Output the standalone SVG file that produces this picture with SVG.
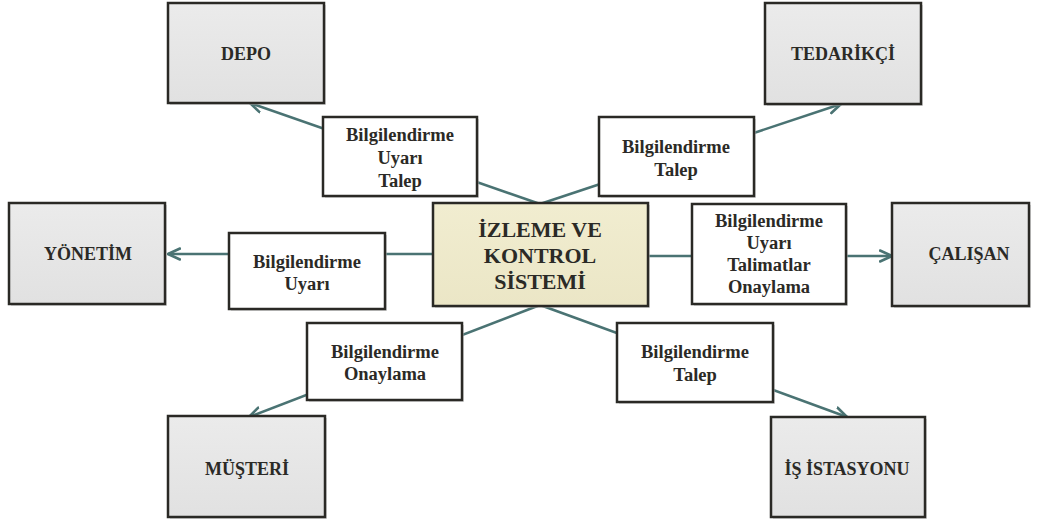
<svg xmlns="http://www.w3.org/2000/svg" width="1046" height="520" viewBox="0 0 1046 520">
  <defs>
    <style>
      .entity { fill: url(#grayFill); stroke: #2a2925; stroke-width: 2.5; }
      .core { fill: url(#coreFill); stroke: #2a2925; stroke-width: 2.5; }
      .info { fill: #ffffff; stroke: #2a2925; stroke-width: 2.5; }
      .shadow { fill: #bdbdbd; opacity: 0.55; }
      .flow { stroke: #4a7373; stroke-width: 2.6; fill: none; }
      .t { font-family: "Liberation Serif", "Times New Roman", serif; font-weight: bold; fill: #2b2a26; text-anchor: middle; }
      .ent { font-size: 18px; }
      .lbl { font-size: 18.5px; }
      .ctr { font-size: 22px; }
    </style>
    <linearGradient id="grayFill" x1="0" y1="0" x2="0" y2="1">
      <stop offset="0" stop-color="#ebebeb"/>
      <stop offset="1" stop-color="#e1e1e1"/>
    </linearGradient>
    <linearGradient id="coreFill" x1="0" y1="0" x2="0" y2="1">
      <stop offset="0" stop-color="#f1edd0"/>
      <stop offset="1" stop-color="#ebe6c6"/>
    </linearGradient>
    <marker id="open" viewBox="0 0 14 14" refX="13" refY="7" markerWidth="14" markerHeight="14" markerUnits="userSpaceOnUse" orient="auto">
      <path d="M1,1.5 L13,7 L1,12.5" fill="none" stroke="#4a7373" stroke-width="2.6" stroke-linecap="round" stroke-linejoin="round"/>
    </marker>
  </defs>

  <!-- connectors: drawn first so the label boxes sit on top of them -->
  <g id="connectors">
    <line class="flow" x1="540" y1="204" x2="250" y2="103" marker-end="url(#open)"/>
    <line class="flow" x1="540" y1="204" x2="841" y2="104" marker-end="url(#open)"/>
    <line class="flow" x1="433" y1="254" x2="168" y2="254" marker-end="url(#open)"/>
    <line class="flow" x1="648" y1="256" x2="892" y2="256" marker-end="url(#open)"/>
    <line class="flow" x1="540" y1="305" x2="249" y2="417" marker-end="url(#open)"/>
    <line class="flow" x1="540" y1="305" x2="847" y2="417" marker-end="url(#open)"/>
  </g>

  <!-- central node -->
  <g id="izleme-kontrol">
    <rect class="shadow" x="435" y="205" width="215" height="103"/>
    <rect class="core" x="433" y="203" width="215" height="103"/>
    <text class="t ctr" x="540" y="237">İZLEME VE</text>
    <text class="t ctr" x="540" y="263">KONTROL</text>
    <text class="t ctr" x="540" y="289">SİSTEMİ</text>
  </g>

  <!-- outer entities -->
  <g id="depo">
    <rect class="shadow" x="170" y="5" width="156" height="100"/>
    <rect class="entity" x="168" y="3" width="156" height="100"/>
    <text class="t ent" x="246" y="60">DEPO</text>
  </g>
  <g id="tedarikci">
    <rect class="shadow" x="767" y="5" width="156" height="101"/>
    <rect class="entity" x="765" y="3" width="156" height="101"/>
    <text class="t ent" x="843" y="60">TEDARİKÇİ</text>
  </g>
  <g id="yonetim">
    <rect class="shadow" x="11" y="205" width="156" height="101"/>
    <rect class="entity" x="9" y="203" width="156" height="101"/>
    <text class="t ent" x="88" y="260">YÖNETİM</text>
  </g>
  <g id="calisan">
    <rect class="shadow" x="894" y="205" width="137" height="103"/>
    <rect class="entity" x="892" y="203" width="137" height="103"/>
    <text class="t ent" x="969" y="260">ÇALIŞAN</text>
  </g>
  <g id="musteri">
    <rect class="shadow" x="170" y="418" width="157" height="101"/>
    <rect class="entity" x="168" y="416" width="157" height="101"/>
    <text class="t ent" x="247" y="475">MÜŞTERİ</text>
  </g>
  <g id="is-istasyonu">
    <rect class="shadow" x="773" y="419" width="154" height="100"/>
    <rect class="entity" x="771" y="417" width="154" height="100"/>
    <text class="t ent" x="847" y="475">İŞ İSTASYONU</text>
  </g>

  <!-- message labels on the connectors -->
  <g id="msg-depo">
    <rect class="shadow" x="325" y="119" width="154" height="79"/>
    <rect class="info" x="323" y="117" width="154" height="79"/>
    <text class="t lbl" x="400" y="141">Bilgilendirme</text>
    <text class="t lbl" x="400" y="164">Uyarı</text>
    <text class="t lbl" x="400" y="187">Talep</text>
  </g>
  <g id="msg-tedarikci">
    <rect class="shadow" x="601" y="119" width="155" height="79"/>
    <rect class="info" x="599" y="117" width="155" height="79"/>
    <text class="t lbl" x="676" y="153">Bilgilendirme</text>
    <text class="t lbl" x="676" y="176">Talep</text>
  </g>
  <g id="msg-yonetim">
    <rect class="shadow" x="231" y="235" width="156" height="76"/>
    <rect class="info" x="229" y="233" width="156" height="76"/>
    <text class="t lbl" x="307" y="268">Bilgilendirme</text>
    <text class="t lbl" x="307" y="290">Uyarı</text>
  </g>
  <g id="msg-calisan">
    <rect class="shadow" x="694" y="206" width="154" height="100"/>
    <rect class="info" x="692" y="204" width="154" height="100"/>
    <text class="t lbl" x="769" y="227">Bilgilendirme</text>
    <text class="t lbl" x="769" y="249">Uyarı</text>
    <text class="t lbl" x="769" y="271">Talimatlar</text>
    <text class="t lbl" x="769" y="293">Onaylama</text>
  </g>
  <g id="msg-musteri">
    <rect class="shadow" x="309" y="325" width="155" height="77"/>
    <rect class="info" x="307" y="323" width="155" height="77"/>
    <text class="t lbl" x="385" y="358">Bilgilendirme</text>
    <text class="t lbl" x="385" y="380">Onaylama</text>
  </g>
  <g id="msg-is-istasyonu">
    <rect class="shadow" x="619" y="325" width="156" height="79"/>
    <rect class="info" x="617" y="323" width="156" height="79"/>
    <text class="t lbl" x="695" y="358">Bilgilendirme</text>
    <text class="t lbl" x="695" y="381">Talep</text>
  </g>
</svg>
